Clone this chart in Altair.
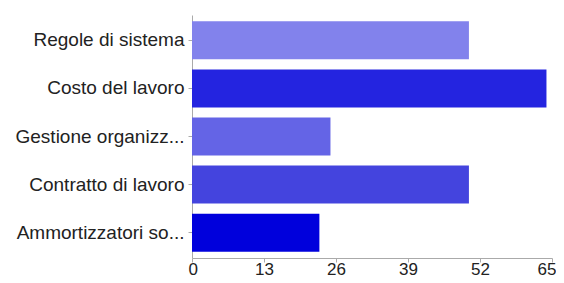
import altair as alt
import pandas as pd

categories = [
    "Regole di sistema",
    "Costo del lavoro",
    "Gestione organizz...",
    "Contratto di lavoro",
    "Ammortizzatori so...",
]
values = [50, 64, 25, 50, 23]
tick_values = [0, 13, 26, 39, 52, 65]

bar_colors = ["#8282EC", "#2424E0", "#6464E6", "#4444DE", "#0000DC"]

df = pd.DataFrame({"categoria": categories, "valore": values})

chart = (
    alt.Chart(df)
    .mark_bar(size=38)
    .encode(
        y=alt.Y(
            "categoria:N",
            sort=categories,
            title=None,
            scale=alt.Scale(paddingInner=0.2, paddingOuter=0.125),
            axis=alt.Axis(
                labelFont="Liberation Sans",
                labelFontSize=19,
                labelColor="#222222",
                labelPadding=4,
                tickSize=4,
                tickColor="#aaaaaa",
                domainColor="#aaaaaa",
                labelLimit=200,
            ),
        ),
        x=alt.X(
            "valore:Q",
            title=None,
            scale=alt.Scale(domain=[0, 65], nice=False),
            axis=alt.Axis(
                values=tick_values,
                grid=False,
                labelFont="Liberation Sans",
                labelFontSize=17,
                labelColor="#222222",
                labelPadding=-1,
                tickSize=4,
                tickColor="#aaaaaa",
                domainColor="#aaaaaa",
                labelFlush=True,
                labelFlushOffset=4,
            ),
        ),
        color=alt.Color(
            "categoria:N",
            scale=alt.Scale(domain=categories, range=bar_colors),
            legend=None,
        ),
    )
    .properties(
        width=360,
        height=243,
        background="white",
        autosize=alt.AutoSizeParams(type="none"),
        padding={"left": 184, "top": 7, "right": 4, "bottom": 22},
    )
    .configure_view(stroke=None)
)

chart.save("out.html", embed_options={"renderer": "svg", "actions": False})
